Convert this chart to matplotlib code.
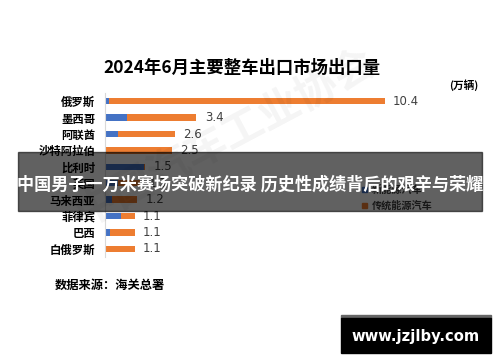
import matplotlib
matplotlib.use("Agg")
import matplotlib.pyplot as plt
from matplotlib.patches import Rectangle

plt.rcParams['font.family'] = ['Noto Sans CJK SC', 'DejaVu Sans']

# data (万辆)
countries = ['俄罗斯', '墨西哥', '阿联酋', '沙特阿拉伯', '比利时', '英国',
             '马来西亚', '菲律宾', '巴西', '白俄罗斯']
new_energy = [0.15, 0.8, 0.5, 0.05, 1.45, 0.5, 0.25, 0.6, 0.2, 0.05]
traditional = [10.25, 2.6, 2.1, 2.45, 0.05, 0.8, 0.95, 0.5, 0.9, 1.05]
totals = [10.4, 3.4, 2.6, 2.5, 1.5, 1.3, 1.2, 1.1, 1.1, 1.1]

BLUE = '#4472C4'
ORANGE = '#ED7D31'
W, H = 500, 362

fig = plt.figure(figsize=(5, 3.62), dpi=100)
fig.patch.set_facecolor('white')

# faint watermark
fig.text(0.45, 0.62, '中国汽车工业协会', fontsize=30, color='#000000', alpha=0.045,
         rotation=28, ha='center', va='center', fontweight='bold')

ax = fig.add_axes([105 / W, 1 - 257 / H, 300 / W, 164 / H])
ypos = list(range(len(countries)))
ax.barh(ypos, new_energy, height=0.38, color=BLUE, label='新能源汽车')
ax.barh(ypos, traditional, left=new_energy, height=0.38, color=ORANGE, label='传统能源汽车')
for y, t in zip(ypos, totals):
    ax.annotate(f'{t}', (t, y), xytext=(6, 0), textcoords='offset points',
                va='center', ha='left', fontsize=8.5, color='#404040',
                family='DejaVu Sans')

ax.set_ylim(len(countries) - 0.5, -0.5)
ax.set_xlim(0, 11.15)
ax.set_yticks(ypos)
ax.set_yticklabels(countries, fontsize=8.2, fontweight='bold')
ax.tick_params(axis='y', length=0, pad=7)
ax.set_xticks([])
for s in ['top', 'right', 'bottom']:
    ax.spines[s].set_visible(False)
ax.spines['left'].set_color('#d9d9d9')
ax.set_facecolor('none')

# title and notes
fig.text(242 / W, 1 - 68 / H, '2024年6月主要整车出口市场出口量', fontsize=12.5,
         fontweight='bold', ha='center', va='center')
fig.text(464 / W, 1 - 85 / H, '(万辆)', fontsize=7.7, fontweight='bold',
         ha='center', va='center')
fig.text(55 / W, 1 - 285 / H, '数据来源：海关总署', fontsize=8.8, fontweight='bold',
         ha='left', va='center')

# legend
fig.patches.append(Rectangle((362 / W, 1 - 192 / H), 5 / W, 5 / H,
                             transform=fig.transFigure, color=BLUE))
fig.text(372 / W, 1 - 189.5 / H, '新能源汽车', fontsize=7.3, fontweight='bold',
         ha='left', va='center', color='#404040')
fig.patches.append(Rectangle((362 / W, 1 - 208 / H), 5 / W, 5 / H,
                             transform=fig.transFigure, color=ORANGE))
fig.text(372 / W, 1 - 205.5 / H, '传统能源汽车', fontsize=7.3, fontweight='bold',
         ha='left', va='center', color='#404040')

# headline banner
fig.patches.append(Rectangle((18 / W, 1 - 211 / H), 464 / W, 59 / H,
                             transform=fig.transFigure, color='black',
                             alpha=0.62, zorder=5))
fig.text(250 / W, 1 - 185 / H, '中国男子一万米赛场突破新纪录 历史性成绩背后的艰辛与荣耀',
         fontsize=12.3, fontweight='bold', color='white', ha='center',
         va='center', zorder=6)

# site badge
fig.patches.append(Rectangle((341 / W, 1 - 318 / H), 150 / W, 3 / H,
                             transform=fig.transFigure, color='#666666', zorder=5))
fig.patches.append(Rectangle((341 / W, 1 - 353 / H), 150 / W, 35 / H,
                             transform=fig.transFigure, color='black', zorder=5))
fig.text(416 / W, 1 - 336 / H, 'www.jzjlby.com', fontsize=10.6, fontweight='bold',
         color='white', ha='center', va='center', family='DejaVu Sans', zorder=6)

fig.savefig('out.png', dpi=100)
